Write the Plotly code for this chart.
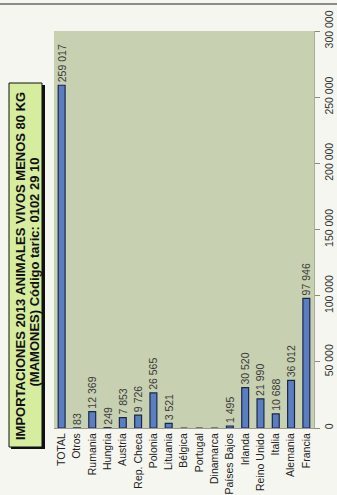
import plotly.graph_objects as go

W, H = 337, 495
ML, MR, MT, MB = 54, 23, 31, 67

countries = [
    "TOTAL", "Otros", "Rumania", "Hungria", "Austria", "Rep. Checa", "Polonia",
    "Lituania", "Bélgica", "Portugal", "Dinamarca", "Países Bajos", "Irlanda",
    "Reino Unido", "Italia", "Alemania", "Francia",
]
heads = [
    259017, 83, 12369, 249, 7853, 9726, 26565,
    3521, 0, 0, 0, 1495, 30520,
    21990, 10688, 36012, 97946,
]
value_ticks = [0, 50000, 100000, 150000, 200000, 250000, 300000]
title_line1 = "IMPORTACIONES 2013 ANIMALES VIVOS MENOS 80 KG"
title_line2 = "(MAMONES) Código taric: 0102 29 10"

PAPER_BG = "#f6f6f0"
PLOT_BG = "#c7d0b0"
BOX_BG = "#d6ec9e"
BAR_FILL = "#5b7ec2"
BAR_LINE = "#1b2748"
FONT = "Liberation Sans, Arial, sans-serif"

PW = W - ML - MR
PH = H - MT - MB


# paper coords in plotly are relative to the plot area, convert from pixels
def px_x(p):
    return (p - ML) / PW


def px_y(p):
    return (H - MB - p) / PH


labels = [f"{v:,}".replace(",", " ") if v else "" for v in heads]

fig = go.Figure(
    go.Bar(
        x=countries,
        y=heads,
        text=labels,
        textposition="outside",
        textangle=-90,
        constraintext="none",
        textfont={"size": 10.5, "color": "#3a3a3a", "family": FONT},
        marker={"color": BAR_FILL, "line": {"color": BAR_LINE, "width": 1.2}},
        cliponaxis=False,
        width=0.45,
    )
)

fig.update_layout(
    width=W,
    height=H,
    margin={"l": ML, "r": MR, "t": MT, "b": MB, "autoexpand": False},
    paper_bgcolor=PAPER_BG,
    plot_bgcolor=PLOT_BG,
    separators=". ",
    showlegend=False,
    font={"family": FONT, "color": "#222"},
    xaxis={
        "tickangle": -90,
        "tickfont": {"size": 10.5, "color": "#222"},
        "showline": True,
        "linecolor": "#9a9a90",
        "linewidth": 1,
        "ticks": "",
        "showgrid": False,
        "fixedrange": True,
    },
    yaxis={
        "side": "right",
        "range": [0, 300000],
        "tickvals": value_ticks,
        "tickformat": ",d",
        "tickangle": -90,
        "tickfont": {"size": 10.5, "color": "#333"},
        "showgrid": False,
        "zeroline": False,
        "showline": True,
        "linecolor": "#a8ad98",
        "ticks": "outside",
        "ticklen": 5,
        "tickcolor": "#8a8a80",
        "fixedrange": True,
    },
    shapes=[
        # scan edge at the top
        {"type": "line", "xref": "paper", "yref": "paper",
         "x0": px_x(0), "x1": px_x(W), "y0": px_y(4), "y1": px_y(4),
         "line": {"color": "#8c8c8c", "width": 2}},
        # title box shadow and box
        {"type": "rect", "xref": "paper", "yref": "paper",
         "x0": px_x(11), "x1": px_x(45), "y0": px_y(449), "y1": px_y(85),
         "fillcolor": "#111", "line": {"width": 0}},
        {"type": "rect", "xref": "paper", "yref": "paper",
         "x0": px_x(9), "x1": px_x(42), "y0": px_y(447), "y1": px_y(83),
         "fillcolor": BOX_BG, "line": {"color": "#111", "width": 1}},
    ],
)

for line, cx, cy in [(title_line1, 20, 266), (title_line2, 33.5, 272)]:
    fig.add_annotation(
        xref="paper", yref="paper",
        x=px_x(cx), y=px_y(cy),
        xanchor="center", yanchor="middle",
        text="<b>" + line + "</b>",
        textangle=-90,
        showarrow=False,
        font={"size": 13, "color": "#111", "family": FONT},
    )

fig.write_html(
    "out.html",
    config={"displayModeBar": False},
    post_script="document.body.style.margin='0';",
)
